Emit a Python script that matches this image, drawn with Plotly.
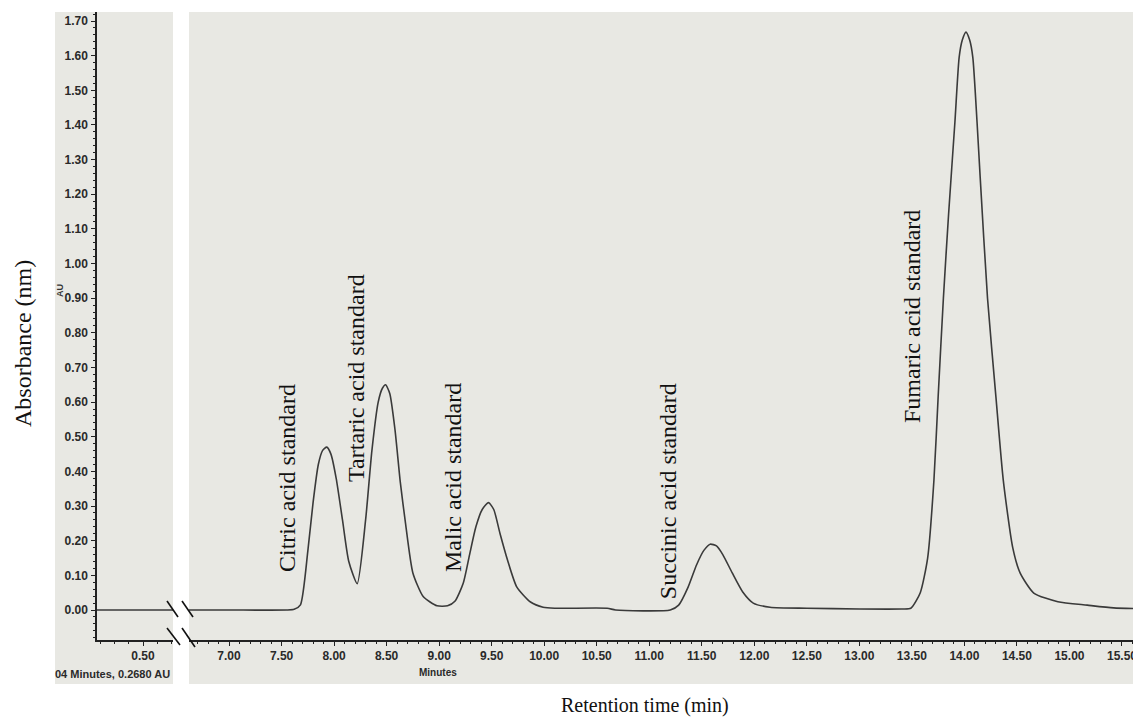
import plotly.graph_objects as go

# ---------------- data ----------------
left_time = [0.10, 0.80]
left_abs = [0.0, 0.0]

time_min = [6.60, 7.00, 7.55, 7.62,
            7.68, 7.75, 7.80, 7.85, 7.89, 7.93, 7.97, 8.02, 8.08, 8.14, 8.22,
            8.30, 8.36, 8.42, 8.46, 8.49, 8.53, 8.58, 8.63, 8.68, 8.75, 8.85, 8.98, 9.08,
            9.15, 9.23, 9.29, 9.35, 9.41, 9.47, 9.52, 9.58, 9.65, 9.74, 9.87, 9.99, 10.10,
            10.60, 10.68, 11.20,
            11.28, 11.37, 11.45, 11.52, 11.58, 11.64, 11.70, 11.79, 11.89, 11.99, 12.15,
            12.50, 13.00, 13.40,
            13.49, 13.58, 13.65, 13.71, 13.75, 13.80, 13.85, 13.91, 13.95, 13.98, 14.015,
            14.05, 14.08, 14.12, 14.15, 14.22, 14.30, 14.37, 14.46, 14.53, 14.66, 14.89,
            15.17, 15.42, 15.70]
absorbance = [0.0, 0.0, 0.0, 0.002,
              0.015, 0.17, 0.31, 0.42, 0.46, 0.47, 0.45, 0.38, 0.26, 0.14, 0.076,
              0.26, 0.46, 0.60, 0.64, 0.65, 0.625, 0.52, 0.37, 0.25, 0.107, 0.038, 0.012, 0.012,
              0.025, 0.078, 0.16, 0.24, 0.29, 0.31, 0.29, 0.22, 0.145, 0.066, 0.023, 0.008, 0.005,
              0.005, 0.0, 0.0,
              0.014, 0.066, 0.13, 0.172, 0.19, 0.185, 0.16, 0.107, 0.052, 0.02, 0.008,
              0.005, 0.003, 0.003,
              0.005, 0.05, 0.15, 0.375, 0.615, 0.90, 1.145, 1.41, 1.595, 1.645, 1.668,
              1.645, 1.595, 1.41, 1.25, 0.90, 0.615, 0.375, 0.18, 0.107, 0.049, 0.024,
              0.014, 0.006, 0.004]

peak_labels = ["Citric acid standard", "Tartaric acid standard", "Malic acid standard",
               "Succinic acid standard", "Fumaric acid standard"]
peak_label_time = [7.552, 8.209, 9.132, 11.179, 13.502]
peak_label_abs = [0.381, 0.670, 0.381, 0.343, 0.846]

# ---------------- layout helpers ----------------
# the page body has an 8px margin, so the figure starts at (8, 8) in the window
OFF = 8
W, H = 1141 - OFF, 722 - OFF
def px(x):
    return (x - OFF) / W
def py(y):
    return 1 - (y - OFF) / H

GRAY = "#e8e8e3"
AXC = "#222222"
TICKFONT = dict(family="Arial, Liberation Sans", size=12, color="#2a2a2a", weight="bold")
SERIF = "Times New Roman, Liberation Serif, serif"

fig = go.Figure()
fig.add_trace(go.Scatter(x=left_time, y=left_abs, mode="lines", xaxis="x", yaxis="y",
                         line=dict(color="#3a3a3a", width=1.5), showlegend=False,
                         hoverinfo="skip"))
fig.add_trace(go.Scatter(x=time_min, y=absorbance, mode="lines", xaxis="x2", yaxis="y2",
                         line=dict(color="#3a3a3a", width=1.6, shape="spline", smoothing=0.6),
                         showlegend=False))

ydom = [py(640), py(12)]
yrange = [-0.0866, 1.726]

fig.update_layout(
    width=W, height=H,
    margin=dict(l=0, r=0, t=0, b=0),
    paper_bgcolor="white",
    plot_bgcolor="rgba(0,0,0,0)",
    xaxis=dict(domain=[px(97), px(173)], range=[0.178, 0.710], anchor="y",
               tickmode="linear", tick0=0, dtick=0.5, tickformat=".2f",
               ticks="outside", ticklen=4, tickcolor=AXC, tickfont=TICKFONT,
               minor=dict(dtick=0.1, ticks="outside", ticklen=2, tickcolor=AXC),
               showline=True, linecolor=AXC, linewidth=1.5, showgrid=False,
               zeroline=False, fixedrange=True),
    yaxis=dict(domain=ydom, range=yrange, anchor="x",
               tickmode="linear", tick0=0, dtick=0.1, tickformat=".2f",
               ticks="outside", ticklen=4, tickcolor=AXC, tickfont=TICKFONT,
               ticklabelstandoff=1,
               minor=dict(dtick=0.02, ticks="outside", ticklen=2, tickcolor=AXC),
               showline=True, linecolor=AXC, linewidth=1.5, showgrid=False,
               zeroline=False),
    xaxis2=dict(domain=[px(189), 1.0], range=[6.619, 15.681], anchor="y2",
                tickmode="linear", tick0=0, dtick=0.5, tickformat=".2f",
                ticks="outside", ticklen=4, tickcolor=AXC, tickfont=TICKFONT,
                minor=dict(dtick=0.1, ticks="outside", ticklen=2, tickcolor=AXC),
                showline=True, linecolor=AXC, linewidth=1.5, showgrid=False,
                zeroline=False),
    yaxis2=dict(domain=ydom, range=yrange, anchor="x2", visible=False),
)

shapes = [
    dict(type="rect", xref="paper", yref="paper", x0=px(55), x1=px(173), y0=py(684), y1=py(12),
         fillcolor=GRAY, line=dict(width=0), layer="below"),
    dict(type="rect", xref="paper", yref="paper", x0=px(189), x1=1.0, y0=py(684), y1=py(12),
         fillcolor=GRAY, line=dict(width=0), layer="below"),
]
for (x0, y0, x1, y1) in [(167, 601, 178, 617), (182, 601, 193, 617),
                         (167, 628, 180, 645), (182, 628, 195, 647)]:
    shapes.append(dict(type="line", xref="paper", yref="paper", x0=px(x0), y0=py(y0),
                       x1=px(x1), y1=py(y1), line=dict(color="#111111", width=1.6),
                       layer="above"))
fig.update_layout(shapes=shapes)

annotations = []
for lab, t, a in zip(peak_labels, peak_label_time, peak_label_abs):
    annotations.append(dict(text=lab, x=t, y=a, xref="x2", yref="y2", textangle=-90,
                            showarrow=False, xanchor="center", yanchor="middle",
                            font=dict(family=SERIF, size=24, color="#111111")))
annotations += [
    dict(text="Absorbance (nm)", x=px(23), y=py(344), xref="paper", yref="paper",
         textangle=-90, showarrow=False, xanchor="center", yanchor="middle",
         font=dict(family=SERIF, size=24, color="#111111")),
    dict(text="Retention time (min)", x=px(645), y=py(705), xref="paper", yref="paper",
         showarrow=False, xanchor="center", yanchor="middle",
         font=dict(family=SERIF, size=20, color="#111111")),
    dict(text="AU", x=px(60), y=py(291), xref="paper", yref="paper", textangle=-90,
         showarrow=False, xanchor="center", yanchor="middle",
         font=dict(family="Arial, Liberation Sans", size=9, color="#333333", weight="bold")),
    dict(text="Minutes", x=px(438), y=py(672), xref="paper", yref="paper",
         showarrow=False, xanchor="center", yanchor="middle",
         font=dict(family="Arial, Liberation Sans", size=10, color="#2a2a2a", weight="bold")),
    dict(text="04 Minutes, 0.2680 AU", x=px(172), y=py(674), xref="paper", yref="paper",
         showarrow=False, xanchor="right", yanchor="middle",
         font=dict(family="Arial, Liberation Sans", size=11, color="#2a2a2a", weight="bold")),
]
fig.update_layout(annotations=annotations)

fig.write_html("out.html")
